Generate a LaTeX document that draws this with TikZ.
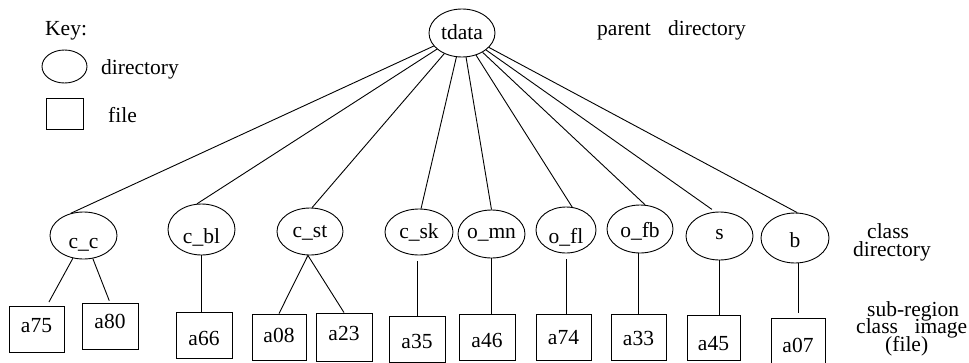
\documentclass[tikz,border=0pt]{standalone}
\usepackage{fontspec}
\setmainfont{Liberation Serif}
\newfontfamily\diagfont{Liberation Serif}
\usetikzlibrary{shapes.geometric}
% zero-width label so the node size comes only from minimum width/height
\newcommand\ztxt[1]{\makebox[0pt]{#1}}

\begin{document}
\begin{tikzpicture}[x=1pt,y=-1pt,
  every node/.style={font=\diagfont\fontsize{21.5}{17.5}\selectfont},
  dirnode/.style={draw, ellipse, inner sep=0pt, line width=0.9pt, text depth=0pt},
  filenode/.style={draw, rectangle, inner sep=0pt, line width=0.9pt,
                   minimum width=55pt, minimum height=46pt, text depth=0pt},
  link/.style={line width=0.9pt},
  lbl/.style={anchor=base west, inner sep=0pt}]

\useasboundingbox (0,0) rectangle (969,362);

% ---- key ----
\node[lbl] (keytitle) at (45,35) {Key:};
\node[dirnode, minimum width=45pt, minimum height=33pt] (keydir) at (64.5,66.5) {};
\node[lbl] (keydirtxt) at (101,74) {directory};
\node[draw, rectangle, line width=0.9pt, inner sep=0pt, minimum width=37pt, minimum height=31pt] (keyfile) at (64.5,113.5) {};
\node[lbl] (keyfiletxt) at (108,122) {file};

% ---- parent directory ----
\node[dirnode, minimum width=66pt, minimum height=48pt, text height=13pt] (tdata) at (462,33) {\ztxt{tdata}};
\node[lbl] (parenttxt) at (597,35) {parent\hspace{0.8em}directory};

% ---- class directories ----
\node[dirnode, minimum width=67pt, minimum height=47pt, text height=25.6pt] (cc)  at (83.5,235.5) {\ztxt{c\_c}};
\node[dirnode, minimum width=67pt, minimum height=51pt, text height=28pt]   (cbl) at (201.5,229.5) {\ztxt{c\_bl}};
\node[dirnode, minimum width=66pt, minimum height=47pt, text height=11pt]   (cst) at (310,231.5) {\ztxt{c\_st}};
\node[dirnode, minimum width=68pt, minimum height=46pt, text height=12pt]   (csk) at (419,232) {\ztxt{c\_sk}};
\node[dirnode, minimum width=67pt, minimum height=48pt, text height=8pt]    (omn) at (491.5,234) {\ztxt{o\_mn}};
\node[dirnode, minimum width=60pt, minimum height=46pt, text height=26pt]   (ofl) at (566,230) {\ztxt{o\_fl}};
\node[dirnode, minimum width=66pt, minimum height=48pt, text height=16pt]   (ofb) at (640,229) {\ztxt{o\_fb}};
\node[dirnode, minimum width=67pt, minimum height=48pt, text height=6pt]    (s)   at (719.5,236) {\ztxt{s}};
\node[dirnode, minimum width=68pt, minimum height=50pt, text height=18pt]   (b)   at (795,238) {\ztxt{b}};

\node[lbl] (classtxt1) at (867,238) {class};
\node[lbl] (classtxt2) at (853,256.5) {directory};

% ---- sub-region image files ----
\node[filenode, text height=6pt]  (a75) at (36.5,329) {a75};
\node[filenode, minimum width=56pt, text height=5pt]  (a80) at (110,326) {a80};
\node[filenode, minimum width=56pt, text height=20pt] (a66) at (204,335) {a66};
\node[filenode, minimum width=54pt, text height=10pt] (a08) at (279,337) {a08};
\node[filenode, minimum width=56pt, minimum height=48pt, text height=6pt] (a23) at (344,337) {a23};
\node[filenode, minimum width=56pt, text height=18pt] (a35) at (417,339) {a35};
\node[filenode, minimum width=56pt, text height=20pt] (a46) at (487,337) {a46};
\node[filenode, text height=14pt] (a74) at (563.5,337) {a74};
\node[filenode, text height=16pt] (a33) at (638.5,337) {a33};
\node[filenode, minimum width=53pt, minimum height=45pt, text height=25pt] (a45) at (713.5,337.5) {a45};
\node[filenode, minimum width=54pt, text height=22pt] (a07) at (798,341) {a07};

\node[lbl] (subtxt1) at (867,316.5) {sub-region};
\node[lbl] (subtxt2) at (856,333.5) {class\hspace{0.77em}image};
\node[lbl] (subtxt3) at (885,351) {(file)};

% ---- parent to class directories ----
\draw[link] (tdata) -- (cc.120);
\draw[link] (tdata) -- (cbl.100);
\draw[link] (tdata) -- (cst.85);
\draw[link] (tdata) -- (csk.85);
\draw[link] (tdata) -- (omn.north);
\draw[link] (tdata) -- (ofl.75);
\draw[link] (tdata) -- (ofb.78);
\draw[link, shorten >=4pt] (tdata) -- (s.100);
\draw[link] (tdata) -- (b.85);

% ---- class directories to files ----
\draw[link, shorten >=4pt] (cc.245) -- ([xshift=10.5pt]a75.north);
\draw[link, shorten >=2pt] (cc.292) -- (a80.north);
\draw[link] (cbl.south) -- (cbl.south |- a66.north);
\draw[link] (cst.265) -- (a08.north);
\draw[link] (cst.265) -- (a23.north);
\draw[link, shorten <=6pt] (csk.south -| a35.north) -- (a35.north);
\draw[link] (omn.south) -- (omn.south |- a46.north);
\draw[link, shorten <=6pt] (ofl.south) -- (ofl.south |- a74.north);
\draw[link] (a33.north |- ofb.south) -- (a33.north);
\draw[link] (s.south) -- (s.south |- a45.north);
\draw[link, shorten >=5pt] (a07.north |- b.south) -- (a07.north);

\end{tikzpicture}
\end{document}
